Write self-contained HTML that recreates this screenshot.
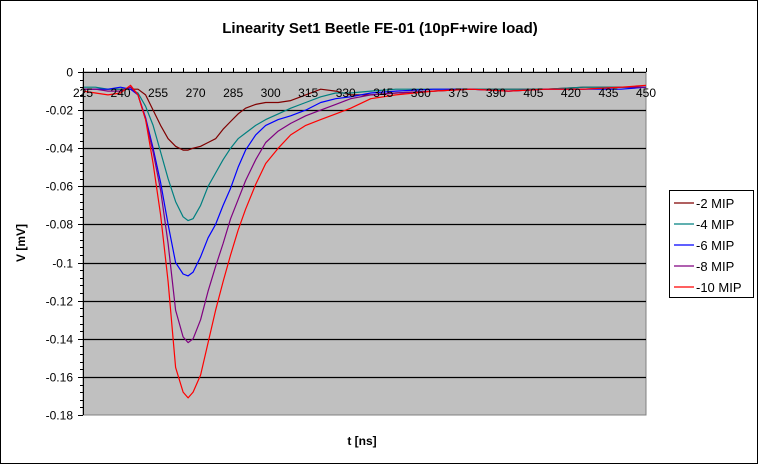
<!DOCTYPE html>
<html><head><meta charset="utf-8"><style>
body{margin:0;background:#fff;}
svg{display:block;font-family:"Liberation Sans",Arial,sans-serif;}
</style></head><body>
<svg id="chart" width="758" height="464" viewBox="0 0 758 464">
<rect x="0.5" y="0.5" width="757" height="463" fill="#fff" stroke="#000"/>
<text x="380" y="33" text-anchor="middle" font-size="15" font-weight="bold">Linearity Set1 Beetle FE-01 (10pF+wire load)</text>
<rect x="83" y="72" width="563" height="343" fill="#c0c0c0" stroke="#808080"/>
<g id="grid"></g>
<g id="series"></g>
<g id="axes"></g>
<text x="25" y="243" text-anchor="middle" font-size="12" font-weight="bold" transform="rotate(-90 25 243)">V [mV]</text>
<text x="362" y="445" text-anchor="middle" font-size="12" font-weight="bold">t [ns]</text>
<g id="legend">
<rect x="669.5" y="190.5" width="84" height="107" fill="#fff" stroke="#000"/>
</g>
</svg>
<script>
const tValues=[225,230,235,240,244,247,250,253,256,259,262,265,267,269,272,275,278,281,284,287,290,294,298,303,308,314,320,326,332,340,350,365,380,395,410,425,440,450];
const seriesNames=["-2 MIP","-4 MIP","-6 MIP","-8 MIP","-10 MIP"];
const seriesColors=["#800000","#008080","#0000ff","#800080","#ff0000"];
const mip2=[-0.009,-0.009,-0.009,-0.009,-0.009,-0.009,-0.012,-0.02,-0.028,-0.035,-0.039,-0.041,-0.041,-0.04,-0.039,-0.037,-0.035,-0.03,-0.026,-0.022,-0.019,-0.017,-0.016,-0.016,-0.015,-0.012,-0.009,-0.01,-0.012,-0.012,-0.011,-0.01,-0.009,-0.009,-0.009,-0.008,-0.008,-0.008];
const mip4=[-0.008,-0.008,-0.009,-0.009,-0.009,-0.011,-0.018,-0.028,-0.042,-0.056,-0.068,-0.076,-0.078,-0.077,-0.07,-0.06,-0.053,-0.046,-0.04,-0.035,-0.032,-0.028,-0.025,-0.022,-0.019,-0.016,-0.013,-0.011,-0.011,-0.01,-0.009,-0.009,-0.009,-0.009,-0.009,-0.008,-0.008,-0.008];
const mip6=[-0.009,-0.009,-0.009,-0.008,-0.009,-0.012,-0.024,-0.04,-0.058,-0.08,-0.1,-0.106,-0.107,-0.105,-0.097,-0.087,-0.08,-0.07,-0.061,-0.05,-0.041,-0.033,-0.028,-0.025,-0.023,-0.02,-0.016,-0.014,-0.013,-0.011,-0.01,-0.009,-0.009,-0.01,-0.009,-0.009,-0.009,-0.008];
const mip8=[-0.009,-0.009,-0.01,-0.01,-0.008,-0.012,-0.025,-0.042,-0.062,-0.09,-0.125,-0.139,-0.142,-0.14,-0.13,-0.115,-0.102,-0.09,-0.077,-0.067,-0.057,-0.046,-0.037,-0.031,-0.027,-0.023,-0.02,-0.017,-0.014,-0.012,-0.011,-0.01,-0.009,-0.01,-0.009,-0.009,-0.008,-0.008];
const mip10=[-0.01,-0.011,-0.012,-0.011,-0.007,-0.012,-0.025,-0.048,-0.075,-0.11,-0.155,-0.168,-0.171,-0.168,-0.159,-0.142,-0.125,-0.11,-0.096,-0.083,-0.072,-0.059,-0.048,-0.04,-0.033,-0.028,-0.025,-0.022,-0.019,-0.014,-0.012,-0.01,-0.009,-0.01,-0.009,-0.009,-0.008,-0.007];
const xTicks=[225,240,255,270,285,300,315,330,345,360,375,390,405,420,435,450];
const yTicks=[0,-0.02,-0.04,-0.06,-0.08,-0.1,-0.12,-0.14,-0.16,-0.18];
const yTickLabels=["0","-0.02","-0.04","-0.06","-0.08","-0.1","-0.12","-0.14","-0.16","-0.18"];

const NS="http://www.w3.org/2000/svg";
const X0=83,X1=646,Y0=72,Y1=415;
function xs(t){return X0+(t-225)/(450-225)*(X1-X0);}
function ys(v){return Y0+(0-v)/0.18*(Y1-Y0);}
function mk(tag,attrs,parent){const e=document.createElementNS(NS,tag);for(const k in attrs)e.setAttribute(k,attrs[k]);parent.appendChild(e);return e;}
const grid=document.getElementById('grid'),axes=document.getElementById('axes'),ser=document.getElementById('series'),leg=document.getElementById('legend');
yTicks.forEach((v,i)=>{
  const y=Math.round(ys(v))+0.5;
  if(i>0&&i<yTicks.length-1){const g=mk('line',{x1:X0,x2:X1,y1:y,y2:y,stroke:'#000','stroke-width':1.2},grid);
  
  }
  const tk=mk('line',{x1:X0-5,x2:X0,y1:y,y2:y,stroke:'#000'},axes);
  
  
  if(i<yTicks.length-1){for(let j=1;j<5;j++){const yy=Math.round(ys(v-0.004*j))+0.5;const m=mk('line',{x1:X0-3,x2:X0,y1:yy,y2:yy,stroke:'#000'},axes);
  
  }}
  const t=mk('text',{x:X0-10,y:y+4,'text-anchor':'end','font-size':12},axes);t.textContent=yTickLabels[i];
  
  
});
const ax=mk('line',{x1:X0+0.5,x2:X0+0.5,y1:Y0,y2:Y1,stroke:'#000'},axes);


const ax2=mk('line',{x1:X0,x2:X1,y1:Y0+0.5,y2:Y0+0.5,stroke:'#000'},axes);


for(let t=225;t<=450;t+=5){const x=Math.round(xs(t))+0.5;const m=mk('line',{x1:x,x2:x,y1:Y0-4,y2:Y0,stroke:'#000'},axes);

}
xTicks.forEach(t=>{const e=mk('text',{x:xs(t),y:97,'text-anchor':'middle','font-size':12},axes);e.textContent=t;

});
[mip2,mip4,mip6,mip8,mip10].forEach((arr,i)=>{
  const d=arr.map((v,k)=>(k?'L':'M')+xs(tValues[k]).toFixed(1)+','+ys(v).toFixed(1)).join('');
  const p=mk('path',{d:d,fill:'none',stroke:seriesColors[i],'stroke-width':1.2,'stroke-linejoin':'round'},ser);
  
  
  const y=203+i*21;
  const l=mk('line',{x1:674,x2:694,y1:y,y2:y,stroke:seriesColors[i],'stroke-width':1.2},leg);
  
  
  const tx=mk('text',{x:696,y:y+5,'font-size':13},leg);tx.textContent=seriesNames[i];
  
  
});
</script>
</body></html>
